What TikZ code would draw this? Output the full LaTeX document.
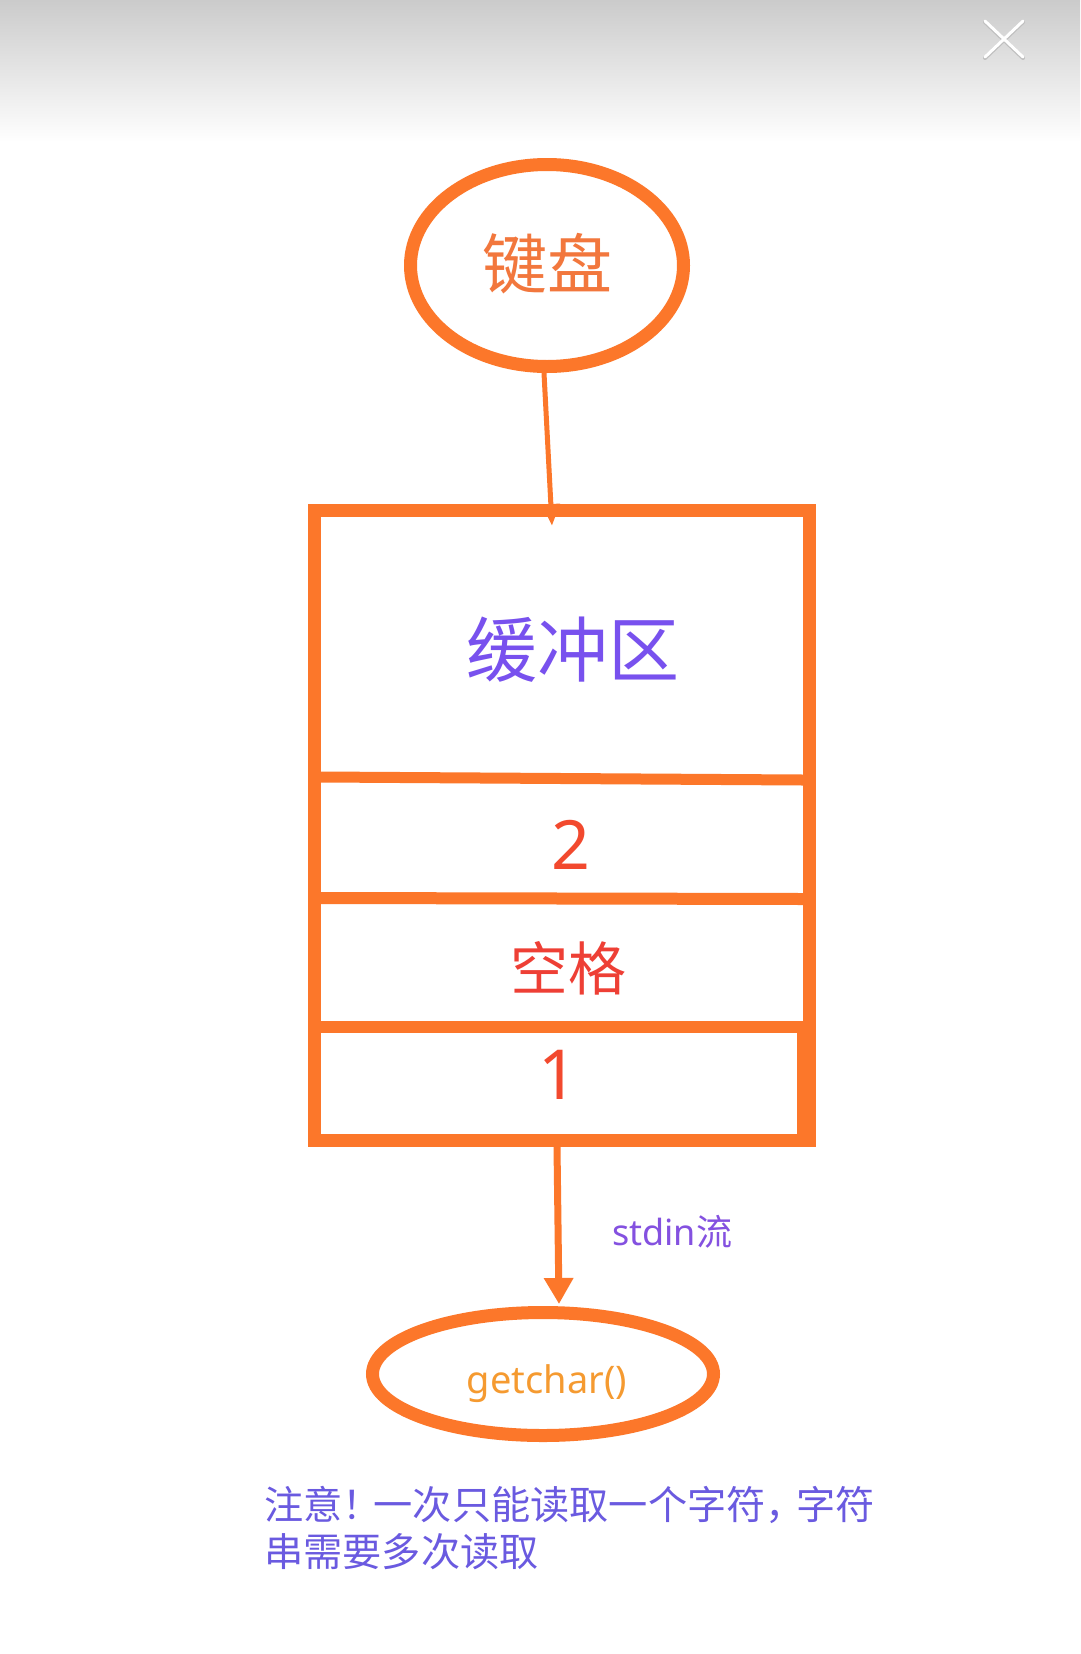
\documentclass[tikz,border=0pt]{standalone}
\usepackage{fontspec}
\setmainfont{Noto Sans CJK SC}
\newfontfamily\latf{Noto Sans}
\usetikzlibrary{arrows.meta,shapes.geometric}
\definecolor{strokeor}{HTML}{FC772A}
\definecolor{topgray}{HTML}{CBCBCB}
\definecolor{kbtext}{HTML}{F2773D}
\definecolor{bufpurple}{HTML}{7851EE}
\definecolor{numred}{HTML}{F2492E}
\definecolor{spred}{HTML}{EE3F35}
\definecolor{stdpurple}{HTML}{8451E0}
\definecolor{gcorange}{HTML}{F59A30}
\definecolor{notepurple}{HTML}{6A5AE0}
\newcommand{\narrowpunct}[1]{\makebox[31pt][l]{#1}}
\tikzset{
  ovalnode/.style={ellipse, draw=strokeor, line width=13pt, inner sep=0pt},
  boxline/.style={draw=strokeor, line cap=butt},
  arrowone/.style={draw=strokeor, line width=5pt, -{Triangle[width=17pt,length=22pt]}},
  arrowtwo/.style={draw=strokeor, line width=7pt, -{Triangle[width=28pt,length=26pt]}},
  lbl/.style={inner sep=0pt, anchor=base},
  notetext/.style={inner sep=0pt, anchor=base west, text=notepurple, font=\fontsize{39.2}{48}\selectfont},
}
\begin{document}
\begin{tikzpicture}[x=1pt,y=-1pt]
\useasboundingbox (0,0) rectangle (1080,1654);
\fill[white] (0,0) rectangle (1080,1654);
\shade[top color=topgray, bottom color=white] (0,0) rectangle (1080,142);
% close icon
\coordinate (xa) at (985,21); \coordinate (xb) at (1023,57);
\coordinate (xc) at (1023,21); \coordinate (xd) at (985,57);
\draw[black!25, line width=4pt, line cap=round] ([yshift=-1pt]xa) -- ([yshift=-1pt]xb) ([yshift=-1pt]xc) -- ([yshift=-1pt]xd);
\draw[white, line width=3pt, line cap=round] (xa) -- (xb) (xc) -- (xd);

% keyboard
\node[ovalnode, minimum width=273pt, minimum height=202pt] (kb) at (547,265.5) {};
\node[lbl, text=kbtext, font=\fontsize{65}{78}\selectfont] (kbt) at (547,288) {键盘};

% buffer box
\node[draw=strokeor, line width=13pt, minimum width=495pt, minimum height=630pt, inner sep=0pt] (buf) at (561.5,825) {};
\coordinate (d1l) at (321,777); \coordinate (d1r) at (803,780);
\coordinate (d2l) at (321,898); \coordinate (d2r) at (803,899);
\coordinate (d3l) at (308,1027); \coordinate (d3r) at (803,1027);
\coordinate (b1t) at (800,1021); \coordinate (b1b) at (800,1146);
\draw[boxline, line width=11pt] (d1l) -- (d1r);
\draw[boxline, line width=12pt] (d2l) -- (d2r);
\draw[boxline, line width=12pt] (d3l) -- (d3r);
\draw[boxline, line width=6pt] (b1t) -- (b1b);

\node[lbl, text=bufpurple, font=\fontsize{71}{85}\selectfont] (buft) at (573,676) {缓冲区};
\node[lbl, text=numred, font=\latf\fontsize{68}{80}\selectfont] (n2) at (571,869) {2};
\node[lbl, text=spred, font=\fontsize{58}{70}\selectfont] (sp) at (568,990) {空格};
\node[lbl, text=numred, font=\latf\fontsize{69}{80}\selectfont] (n1) at (558,1099) {1};

% getchar
\node[ovalnode, minimum width=341pt, minimum height=123pt] (gc) at (543,1374) {};
\node[lbl, text=gcorange, font=\latf\fontsize{38}{46}\selectfont] (gct) at (547,1393) {getchar()};

% arrows
\coordinate (a1e) at (552,526);
\draw[arrowone] ([xshift=-3pt]kb.south) -- (a1e);
\coordinate (a2e) at (559,1304);
\draw[arrowtwo] ([xshift=-4.5pt]buf.south) -- (a2e);

\node[inner sep=0pt, anchor=base west, text=stdpurple, font=\fontsize{36}{44}\selectfont] (std) at (612,1245) {{\latf stdin}流};

% note
\node[notetext] (note1) at (264,1519) {注意\narrowpunct{！}一次只能读取一个字符\narrowpunct{，}字符};
\node[notetext] (note2) at (264,1566) {串需要多次读取};
\end{tikzpicture}
\end{document}
